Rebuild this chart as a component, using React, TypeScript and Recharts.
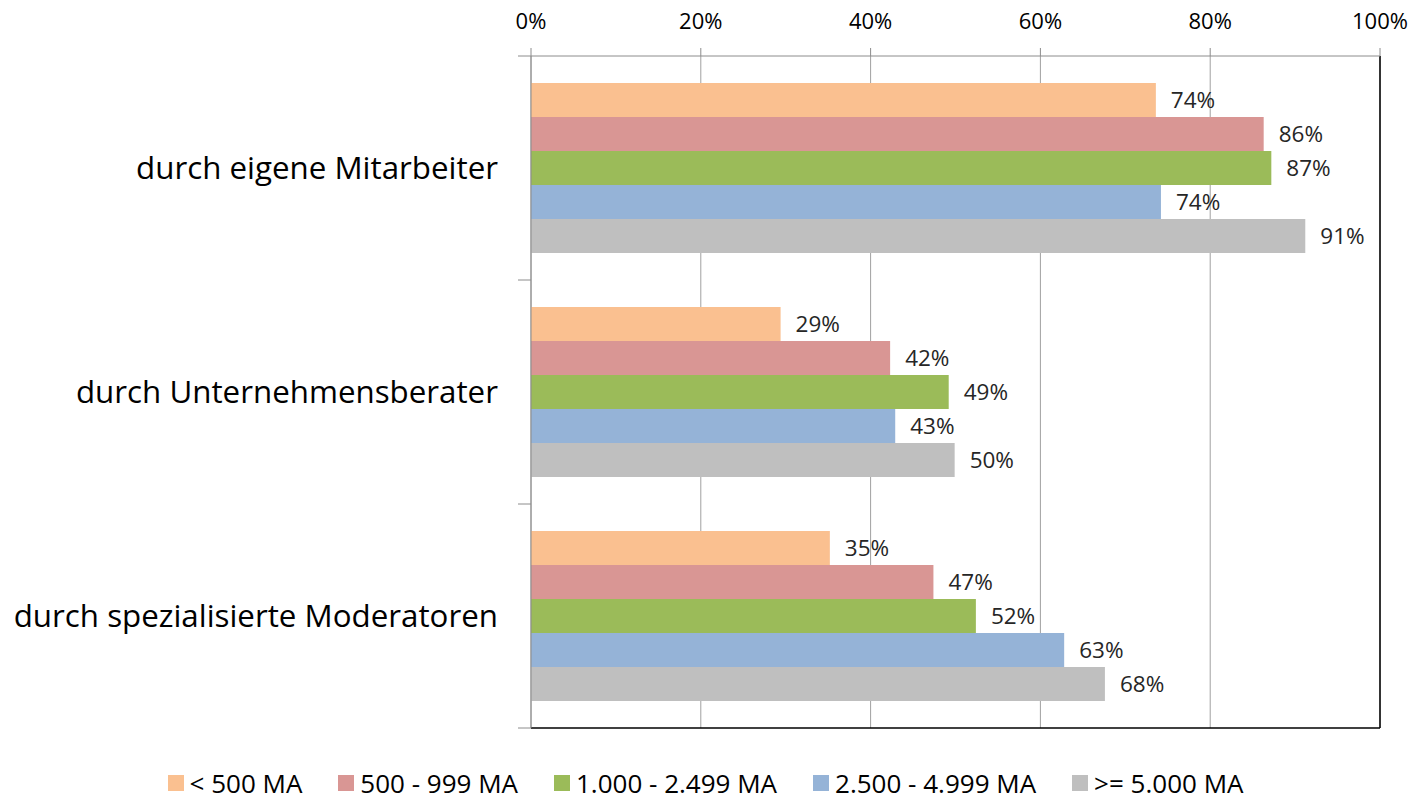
import React from 'react';
import { BarChart, Bar, XAxis, YAxis, CartesianGrid, ReferenceLine, LabelList, Legend } from 'recharts';

const categories = ['durch eigene Mitarbeiter', 'durch Unternehmensberater', 'durch spezialisierte Moderatoren'];
const seriesNames = ['< 500 MA', '500 - 999 MA', '1.000 - 2.499 MA', '2.500 - 4.999 MA', '>= 5.000 MA'];
const seriesColors = ['#FAC090', '#D99694', '#9BBB59', '#95B3D7', '#BFBFBF'];
const under500 = [73.6, 29.4, 35.2];
const from500 = [86.3, 42.3, 47.4];
const from1000 = [87.2, 49.2, 52.4];
const from2500 = [74.2, 42.9, 62.8];
const from5000 = [91.2, 49.9, 67.6];
const xTicks = [0, 20, 40, 60, 80, 100];

const seriesValues = [under500, from500, from1000, from2500, from5000];
const data = categories.map((name, i) => {
  const row: any = { name };
  seriesValues.forEach((vals, s) => {
    row['s' + s] = vals[i];
  });
  return row;
});

const FONT = '"Open Sans", "Noto Sans", sans-serif';
const LABEL_GAP = 33;
const TICK_LEN = 13;

// category label plus the boundary tick marks between categories
const CategoryTick = (props: any) => {
  const { x, y, payload, index, height, visibleTicksCount } = props;
  const band = height / visibleTicksCount;
  const axisX = x + LABEL_GAP;
  return (
    <g>
      <line x1={axisX - TICK_LEN} x2={axisX} y1={y - band / 2} y2={y - band / 2} stroke="#8c8c8c" />
      {index === visibleTicksCount - 1 && (
        <line x1={axisX - TICK_LEN} x2={axisX} y1={y + band / 2} y2={y + band / 2} stroke="#8c8c8c" />
      )}
      <text x={x} y={y} dy="0.36em" textAnchor="end" fill="#000" fontSize={31.3} fontFamily={FONT}>
        {payload.value}
      </text>
    </g>
  );
};

const LegendContent = () => (
  <div style={{ display: 'flex', justifyContent: 'center', gap: 36, fontFamily: FONT, fontSize: 26, lineHeight: '26px', color: '#000' }}>
    {seriesNames.map((n, i) => (
      <div key={n} style={{ display: 'flex', alignItems: 'center' }}>
        <span style={{ width: 16, height: 16, background: seriesColors[i], display: 'inline-block', marginRight: 6 }} />
        <span>{n}</span>
      </div>
    ))}
  </div>
);

const App: React.FC = () => (
  <div style={{ position: 'absolute', left: 0, top: 0, background: '#fff' }}>
    <BarChart
      width={1411}
      height={802}
      data={data}
      layout="vertical"
      margin={{ top: 0, right: 31, bottom: 0, left: 0 }}
      barCategoryGap="12%"
      barGap={0}
    >
      <CartesianGrid horizontal={false} vertical stroke="#a0a0a0" />
      <XAxis
        type="number"
        orientation="top"
        domain={[0, 100]}
        ticks={xTicks}
        tickFormatter={(v) => v + '%'}
        height={56}
        tickSize={8}
        tickMargin={19}
        stroke="#8c8c8c"
        tick={{ fill: '#000', fontSize: 22, fontFamily: FONT }}
      />
      <XAxis
        xAxisId="bottom"
        type="number"
        orientation="bottom"
        domain={[0, 100]}
        height={1}
        tick={false}
        tickLine={false}
        axisLine={{ stroke: '#000', strokeWidth: 1.5 }}
      />
      <YAxis
        type="category"
        dataKey="name"
        width={531}
        axisLine={{ stroke: '#8c8c8c' }}
        tickLine={false}
        tickSize={0}
        tickMargin={LABEL_GAP}
        interval={0}
        tick={<CategoryTick />}
      />
      {seriesNames.map((n, s) => (
        <Bar key={n} dataKey={'s' + s} name={n} fill={seriesColors[s]} isAnimationActive={false}>
          <LabelList
            dataKey={'s' + s}
            position="right"
            offset={15}
            formatter={(v: any) => Math.round(v) + '%'}
            style={{ fill: '#262626', fontSize: 22.5, fontFamily: FONT }}
          />
        </Bar>
      ))}
      <ReferenceLine x={100} stroke="#000" strokeWidth={1.5} ifOverflow="visible" />
      <Legend verticalAlign="bottom" height={73} content={<LegendContent />} wrapperStyle={{ top: 770, left: 0, width: 1411 }} />
    </BarChart>
  </div>
);

export default App;
